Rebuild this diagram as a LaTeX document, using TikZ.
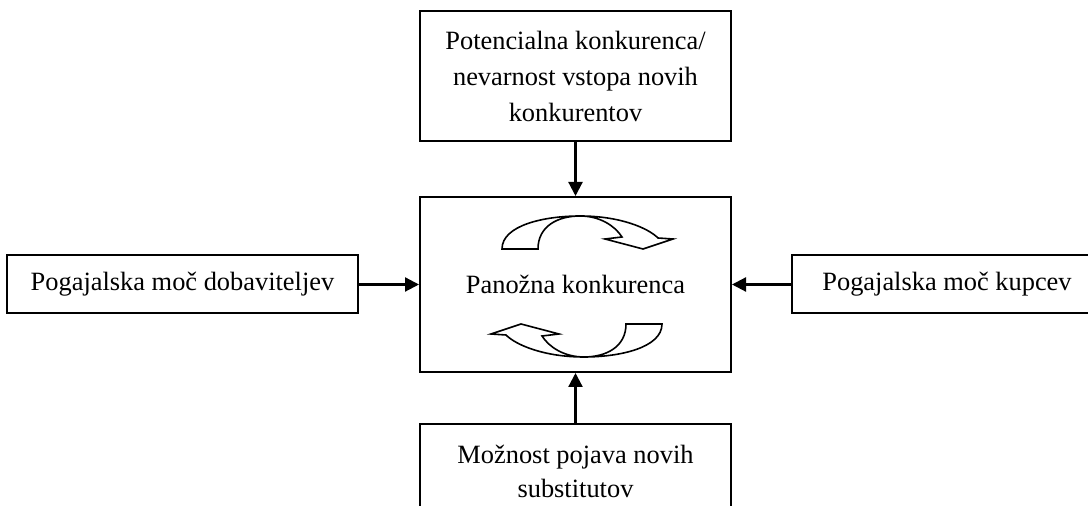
\documentclass[tikz,border=0pt]{standalone}
\usepackage{fontspec}
\setmainfont{Liberation Serif}
\usetikzlibrary{positioning,arrows.meta}

\begin{document}
\begin{tikzpicture}[x=0.5pt,y=-0.5pt,
    okvir/.style={draw,line width=1pt,align=center,inner sep=0pt,font=\fontsize{13.2}{18}\selectfont},
    puscica/.style={line width=1.1pt,-{Triangle[length=7pt,width=7pt]}},
    krog/.style={draw,line width=0.8pt,fill=white,line join=miter}]
  \clip (0,0) rectangle (1088,506);
  \node[okvir,minimum width=155.5pt,minimum height=87.5pt] (sredina) at (575.5,284.5) {Panožna konkurenca};
  \node[okvir,minimum width=155.5pt,minimum height=65pt,above=27pt of sredina] (zgoraj) {Potencialna konkurenca/\\nevarnost vstopa novih\\konkurentov};
  \node[okvir,minimum width=175.5pt,minimum height=29pt,left=30pt of sredina] (levo) {Pogajalska moč dobaviteljev};
  \node[okvir,minimum width=155pt,minimum height=29pt,right=29.5pt of sredina] (desno) {Pogajalska moč kupcev};
  \node[okvir,minimum width=155.5pt,minimum height=47pt,below=25pt of sredina,font=\fontsize{13.2}{17}\selectfont] (spodaj) {Možnost pojava novih\\substitutov};
  \draw[puscica] (zgoraj) -- (sredina);
  \draw[puscica] (spodaj) -- (sredina);
  \draw[puscica] (levo) -- (sredina);
  \draw[puscica] (desno) -- (sredina);
  % krozni puscici v sredini
  \foreach \r in {0,180} {
    \draw[krog,rotate around={\r:(582,286.5)}] (502,249) -- (538,249)
      .. controls (538,226) and (558,216) .. (580,216)
      .. controls (600,216) and (615,226) .. (622,237) -- (605,239) -- (643,249) -- (673,239) -- (658,238)
      .. controls (648,228) and (620,216) .. (580,216)
      .. controls (545,216) and (502,225) .. (502,249) -- cycle;
  }
\end{tikzpicture}
\end{document}
